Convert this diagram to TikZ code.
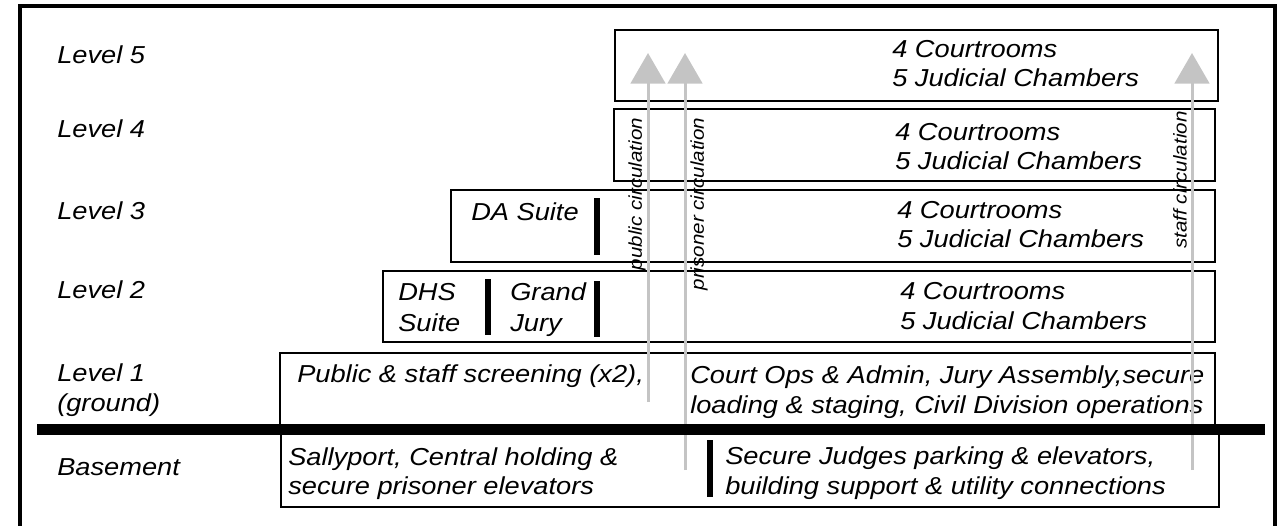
\documentclass[tikz,border=0pt]{standalone}
\usepackage{fontspec}
\setmainfont{Liberation Sans}[FakeStretch=1.11]
\usetikzlibrary{arrows.meta}
\definecolor{circgray}{RGB}{196,196,196}
\begin{document}
\begin{tikzpicture}[x=0.75pt,y=-0.75pt,
  lbl/.style={font=\fontsize{18.4pt}{22pt}\selectfont\itshape, inner sep=0pt, anchor=base west},
  rlbl/.style={font=\fontsize{13.9pt}{16pt}\selectfont\itshape, inner sep=0pt, rotate=90},
  floorbox/.style={draw=black, line width=1.9pt},
  wallbar/.style={line width=4.5pt, black},
  circarrow/.style={draw=circgray, line width=2.25pt, -{Triangle[width=26pt,length=23pt]}}
]
\useasboundingbox (0,0) rectangle (1281,525);
% outer frame
\draw[line width=3pt] (20,527) -- (20,6) -- (1275,6) -- (1275,527);

% level boxes
\draw[floorbox] (615,30) rectangle (1218,101);
\draw[floorbox] (614,109) rectangle (1215,181);
\draw[floorbox] (451,190) rectangle (1215,262);
\draw[floorbox] (383,271) rectangle (1215,342);
\draw[floorbox] (280,353) rectangle (1215,426);
\draw[floorbox] (281,433) rectangle (1219,507);

% level labels
\node[lbl] (l5) at (57,63) {Level 5};
\node[lbl] (l4) at (57,137) {Level 4};
\node[lbl] (l3) at (57,219) {Level 3};
\node[lbl] (l2) at (57,298) {Level 2};
\node[lbl] (l1) at (57,381) {Level 1};
\node[lbl] (l1g) at (57,411) {(ground)};
\node[lbl] (lb) at (57,475) {Basement};

% courtroom texts
\node[lbl] (c5a) at (892,57) {4 Courtrooms};
\node[lbl] (c5b) at (892,86) {5 Judicial Chambers};
\node[lbl] (c4a) at (895,140) {4 Courtrooms};
\node[lbl] (c4b) at (895,169) {5 Judicial Chambers};
\node[lbl] (c3a) at (897,218) {4 Courtrooms};
\node[lbl] (c3b) at (897,247) {5 Judicial Chambers};
\node[lbl] (c2a) at (900,299) {4 Courtrooms};
\node[lbl] (c2b) at (900,329) {5 Judicial Chambers};

% suites
\node[lbl] (da) at (471,220) {DA Suite};
\node[lbl] (dhsa) at (398,300) {DHS};
\node[lbl] (dhsb) at (398,331) {Suite};
\node[lbl] (gja) at (510,300) {Grand};
\node[lbl] (gjb) at (510,331) {Jury};
\draw[wallbar] (597,198) -- (597,255);
\draw[wallbar] (488,279) -- (488,335);
\draw[wallbar] (597,281) -- (597,337);

% level 1
\node[lbl] (scr) at (297,382) {Public \& staff screening (x2),};
\node[lbl] (ops1) at (690,383) {Court Ops \& Admin, Jury Assembly,secure};
\node[lbl] (ops2) at (690,413) {loading \& staging, Civil Division operations};

% basement
\node[lbl] (sal1) at (288,465) {Sallyport, Central holding \&};
\node[lbl] (sal2) at (288,494) {secure prisoner elevators};
\node[lbl] (jud1) at (725,464) {Secure Judges parking \& elevators,};
\node[lbl] (jud2) at (725,494) {building support \& utility connections};
\draw[wallbar] (710,440) -- (710,497);

% circulation arrows
\coordinate (pubS) at (648,402);
\coordinate (pubE) at (648,53);
\coordinate (priS) at (685,470);
\coordinate (priE) at (685,53);
\coordinate (staS) at (1192,470);
\coordinate (staE) at (1192,53);
\draw[circarrow] (pubS) -- (pubE);
\draw[circarrow] (priS) -- (priE);
\draw[circarrow] (staS) -- (staE);

% ground line
\draw[line width=8.25pt] (37,429.5) -- (1265,429.5);

% circulation labels
\node[rlbl] (pubtxt) at (637,194) {public circulation};
\node[rlbl] (pritxt) at (699,204) {prisoner circulation};
\node[rlbl] (statxt) at (1180,180) {staff circulation};
\end{tikzpicture}
\end{document}
